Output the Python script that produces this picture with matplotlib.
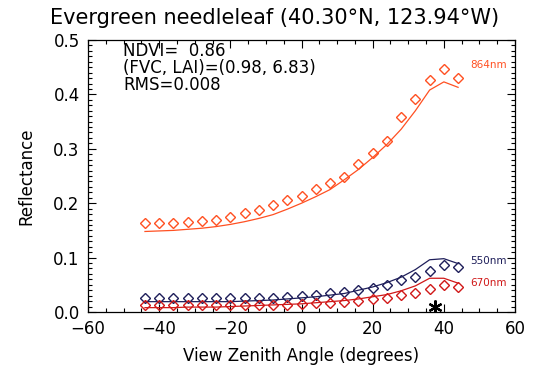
import matplotlib
matplotlib.use("Agg")
import matplotlib.pyplot as plt
from matplotlib.ticker import MultipleLocator, FormatStrFormatter

# View zenith angles (degrees)
vza = [-44, -40, -36, -32, -28, -24, -20, -16, -12, -8, -4, 0,
       4, 8, 12, 16, 20, 24, 28, 32, 36, 40, 44]

# Observed reflectance (diamonds)
obs_864 = [0.164, 0.163, 0.164, 0.165, 0.167, 0.170, 0.175, 0.182, 0.188,
           0.196, 0.205, 0.214, 0.226, 0.238, 0.249, 0.272, 0.292, 0.315,
           0.358, 0.392, 0.426, 0.447, 0.430]
obs_550 = [0.026, 0.026, 0.026, 0.026, 0.026, 0.026, 0.026, 0.026, 0.026,
           0.026, 0.027, 0.029, 0.032, 0.034, 0.036, 0.040, 0.044, 0.050,
           0.058, 0.065, 0.076, 0.086, 0.082]
obs_670 = [0.012, 0.012, 0.012, 0.012, 0.012, 0.012, 0.012, 0.012, 0.012,
           0.013, 0.013, 0.014, 0.016, 0.017, 0.018, 0.020, 0.023, 0.026,
           0.031, 0.035, 0.042, 0.049, 0.046]

# Modelled reflectance (lines)
mod_864 = [0.148, 0.149, 0.150, 0.152, 0.154, 0.157, 0.161, 0.166, 0.172,
           0.179, 0.189, 0.200, 0.212, 0.225, 0.243, 0.262, 0.284, 0.308,
           0.336, 0.370, 0.408, 0.423, 0.413]
mod_550 = [0.019, 0.019, 0.019, 0.019, 0.019, 0.019, 0.019, 0.020, 0.021,
           0.022, 0.024, 0.026, 0.028, 0.031, 0.034, 0.040, 0.046, 0.054,
           0.064, 0.078, 0.096, 0.098, 0.089]
mod_670 = [0.008, 0.008, 0.008, 0.009, 0.009, 0.009, 0.010, 0.011, 0.012,
           0.013, 0.014, 0.015, 0.017, 0.019, 0.021, 0.024, 0.028, 0.032,
           0.039, 0.048, 0.062, 0.062, 0.053]

# Solar position marker
sun_vza = [37.4]
sun_refl = [0.010]

bands = ["864nm", "550nm", "670nm"]
band_colors = ["#FF5022", "#1E1E5A", "#D01818"]
label_y = [0.454, 0.094, 0.053]

title = "Evergreen needleleaf (40.30°N, 123.94°W)"
info = ["NDVI=  0.86", "(FVC, LAI)=(0.98, 6.83)", "RMS=0.008"]

fig = plt.figure(figsize=(5.39, 3.67), dpi=100)
ax = fig.add_axes([0.1633, 0.1499, 0.7922, 0.7411])

for o, m, c in zip([obs_864, obs_550, obs_670], [mod_864, mod_550, mod_670], band_colors):
    ax.plot(vza, m, color=c, lw=0.9)
    ax.plot(vza, o, ls="none", marker="D", ms=4.6, mfc="none", mec=c, mew=1.0)

ax.plot(sun_vza, sun_refl, ls="none", marker=(6, 2, 0), ms=10, mec="black", mew=1.6)

for b, c, yv in zip(bands, band_colors, label_y):
    ax.text(0.937, yv, b, color=c, fontsize=7.5, ha="center", va="center",
            transform=ax.get_yaxis_transform())

for i, t in enumerate(info):
    ax.text(0.082, 0.992 - i * 0.0625, t, fontsize=12, ha="left", va="top",
            transform=ax.transAxes)

ax.set_xlim(-60, 60)
ax.set_ylim(0.0, 0.5)
ax.xaxis.set_major_locator(MultipleLocator(20))
ax.xaxis.set_minor_locator(MultipleLocator(5))
ax.yaxis.set_major_locator(MultipleLocator(0.1))
ax.yaxis.set_minor_locator(MultipleLocator(0.01))
ax.yaxis.set_major_formatter(FormatStrFormatter("%.1f"))
ax.tick_params(which="both", direction="in", top=True, right=True,
               labelsize=12, width=0.8, pad=6)
ax.tick_params(which="major", length=6)
ax.tick_params(which="minor", length=3)
for s in ax.spines.values():
    s.set_linewidth(0.9)

ax.set_xlabel("View Zenith Angle (degrees)", fontsize=12, labelpad=6)
ax.set_ylabel("Reflectance", fontsize=12, labelpad=13)
fig.text(0.51, 0.951, title, fontsize=15, ha="center", va="center")

fig.savefig("out.png", dpi=100)
